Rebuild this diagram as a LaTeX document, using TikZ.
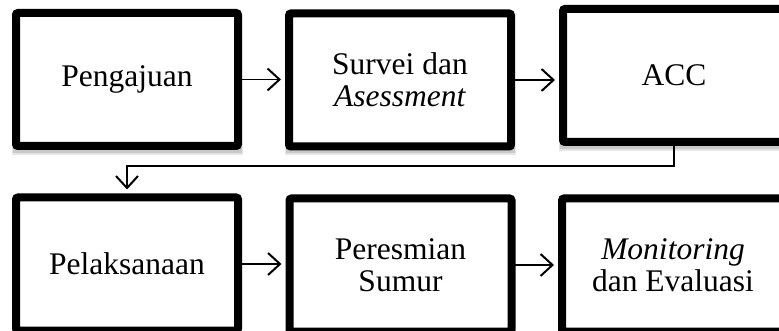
\documentclass[tikz,border=0pt]{standalone}
\usepackage{fontspec}
\setmainfont{Liberation Serif}
\usetikzlibrary{arrows.meta,backgrounds}
\begin{document}
\begin{tikzpicture}[x=1pt,y=-1pt,
  box/.style={draw=black, line width=8pt, fill=white, rounded corners=2pt,
    minimum width=222pt, minimum height=133pt, align=center,
    font=\fontsize{31.5}{32}\selectfont, inner sep=0pt, outer sep=0pt},
  arr/.style={line width=1.6pt, shorten >=8pt,
    -{Straight Barb[length=12pt,width=22pt,line width=2pt]}},
  shade1/.style={fill=black, opacity=0.10},
  shade2/.style={fill=black, opacity=0.12}]
  \useasboundingbox (0,0) rectangle (779,331);
  \clip (0,0) rectangle (779,331);
  \node[box] (b1) at (127,79.5) {Pengajuan};
  \node[box] (b2) at (400,80) {Survei dan\\\textit{Asessment}};
  \node[box] (b3) at (674,75.5) {ACC};
  \node[box] (b4) at (127,264) {Pelaksanaan};
  \node[box] (b5) at (400.5,265) {Peresmian\\Sumur};
  \node[box] (b6) at (673,265) {\textit{Monitoring}\\dan Evaluasi};
  \begin{scope}[on background layer]
    \foreach \n in {b1,b2,b3,b4,b5,b6}{
      \fill[shade1] ([shift={(-4,0)}]\n.south west) rectangle ([shift={(5,9)}]\n.south east);
      \fill[shade2] ([shift={(-3,0)}]\n.south west) rectangle ([shift={(4,7)}]\n.south east);
    }
  \end{scope}
  \draw[arr] (b1.east) -- (b1.east -| b2.west);
  \draw[arr] (b2.east) -- (b2.east -| b3.west);
  \draw[arr] (b4.east) -- (b4.east -| b5.west);
  \draw[arr] (b5.east) -- (b5.east -| b6.west);
  \draw[arr] (b3.south) -- ++(0,24) -| (b4.north);
\end{tikzpicture}
\end{document}
